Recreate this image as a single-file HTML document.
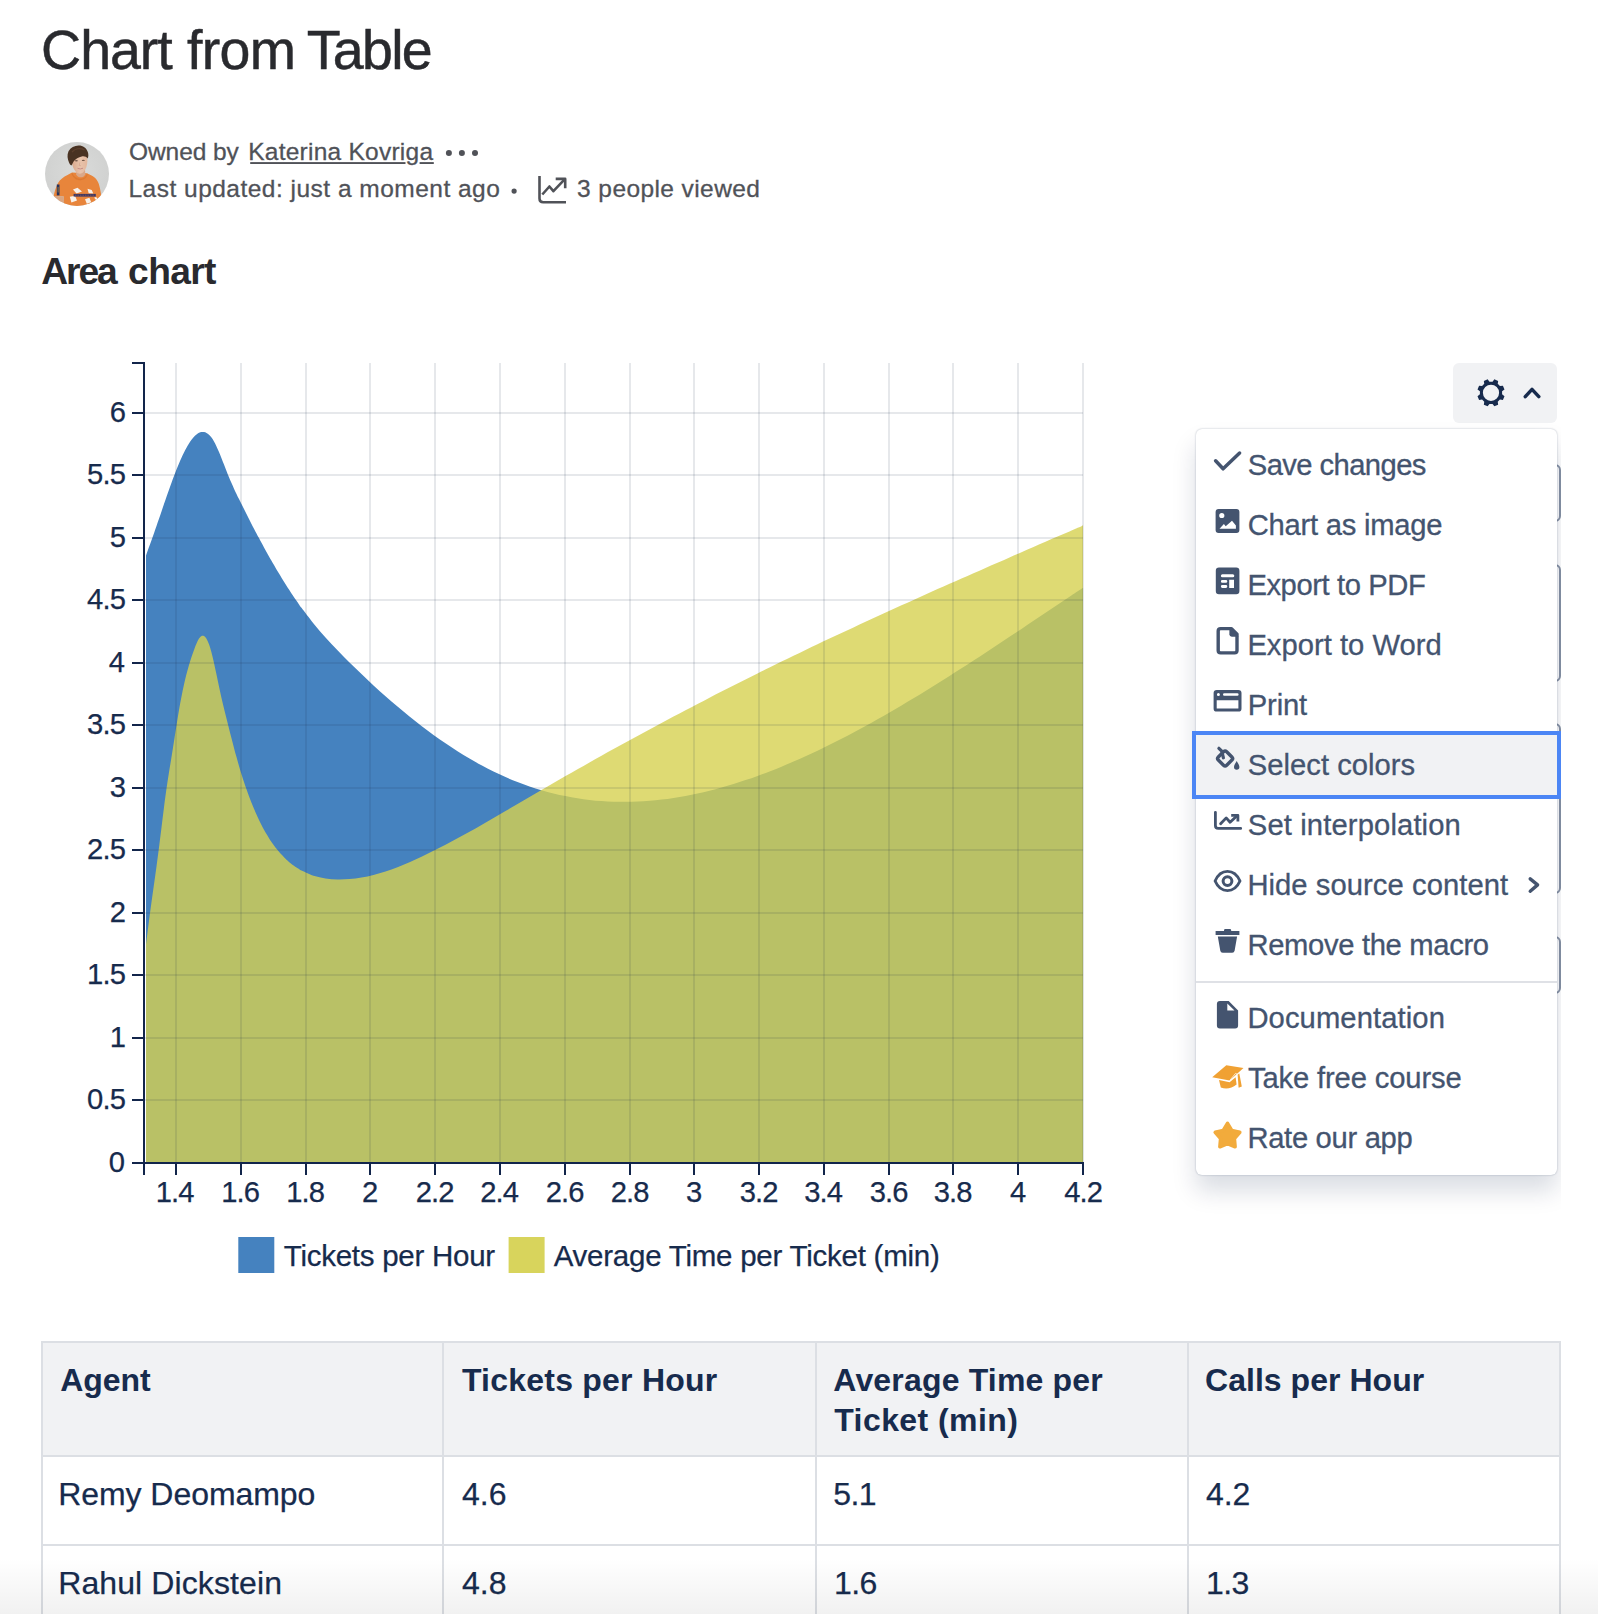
<!DOCTYPE html>
<html lang="en"><head><meta charset="utf-8"><title>Chart from Table</title>
<style>
html,body{margin:0;padding:0;background:#fff;overflow:hidden}
body{width:1598px;height:1614px;overflow:hidden;position:relative;font-family:"Liberation Sans",sans-serif}
.t{position:absolute;white-space:nowrap;margin:0;padding:0}
.abs{position:absolute}
svg{position:absolute;left:0;top:0;overflow:visible}
</style></head>
<body>
<svg style="left:45.2px;top:142px" width="64" height="64" viewBox="0 0 64 64">
<defs><clipPath id="av"><circle cx="32" cy="32" r="32"/></clipPath><filter id="bl" x="-10%" y="-10%" width="120%" height="120%"><feGaussianBlur stdDeviation="0.7"/></filter>
<linearGradient id="fg" x1="0" x2="1" y1="0" y2="0"><stop offset="0" stop-color="#D9A88C"/><stop offset="0.55" stop-color="#E8C3AB"/><stop offset="1" stop-color="#E3B79C"/></linearGradient>
<radialGradient id="bgr" cx="0.5" cy="0.45" r="0.6"><stop offset="0" stop-color="#DADBDA"/><stop offset="1" stop-color="#CFD0CF"/></radialGradient></defs>
<g clip-path="url(#av)"><rect width="64" height="64" fill="url(#bgr)"/>
<g filter="url(#bl)">
<path d="M8.2,56 C9.5,50 10.5,45.5 13,41 C15,37.5 18.5,35 22.5,33 L27,30.6 L42,31.3 L47.5,34 C51.5,36.2 53.8,40 55,46.5 L57,57 L54,66 L18,66 L18.75,54.5 L8.6,54 Z" fill="#E8853B"/>
<path d="M8.6,54 L18.75,54.6 L18.75,61 C15,60.5 11.5,59 8.5,56.5Z" fill="#D9A683"/>
<path d="M31,27 L40,27 L40.3,32.5 C38.5,36.3 33,36.3 31.2,32.5Z" fill="#D9A88A"/>
<path d="M27.2,31 C30.5,38.6 40,38.6 42.3,31.4 L42.6,32.8 C40.5,40.2 30,40.2 26.6,32Z" fill="#D8752F" opacity="0.75"/>
<path d="M26.8,19 C26.5,15 29,11.5 35,11.5 C40,11.5 42.6,14 42.4,19 C42.3,23.5 41,27.5 38.5,30 C36.5,32.2 33.2,32.3 31,30 C28.5,27.5 27,23.5 26.8,19Z" fill="url(#fg)"/>
<ellipse cx="31.4" cy="18.7" rx="1.5" ry="0.7" fill="#5A4236" opacity="0.8"/><ellipse cx="38.3" cy="18.4" rx="1.5" ry="0.7" fill="#5A4236" opacity="0.8"/>
<path d="M32.6,26.4 Q35.3,27.6 38,26.2" stroke="#B9787A" stroke-width="0.9" fill="none" opacity="0.8"/>
<path d="M34.8,20.5 L34.3,23.6 L36,23.7" stroke="#C9977E" stroke-width="0.7" fill="none" opacity="0.7"/>
<path d="M24,20.5 C22.5,17 21.8,13 23.5,9.2 C25.5,5.5 29.5,3.7 33.5,3.6 C38,3.5 41.2,6 42.6,9.5 C43.6,12 43.6,14.5 42.6,16.6 C41.5,14.8 39.5,14 36.8,14.4 C33.5,15 30.5,16.8 28.6,19.5 C27.6,21 27.2,22.6 26.4,23.6 C25.4,23 24.6,22 24,20.5Z" fill="#4A3323"/>
<path d="M27,10 C30,6.5 35,5.5 39.5,8" stroke="#6A4A35" stroke-width="1.2" fill="none" opacity="0.6"/>
<rect x="11.8" y="42.5" width="2.7" height="10.9" fill="#27305E"/>
<rect x="12.6" y="45" width="1" height="5.5" fill="#B99A3D" opacity="0.7"/>
<path d="M28,47.4l4.5,-1.6l4.5,3.6l-5.5,2.2z M42.5,46.8l4.2,1.2l1.6,3.6l-4.6,-0.4z M24.8,54.8l5.2,-1l2,4.6l-5.6,2.2z M40,57.3l4.4,-1.5l1.8,4.4l-4.4,1.6z M49.5,55l2.4,0.6l0.4,2.2l-2.4,-0.6z" fill="#F8F1EA"/>
<rect x="28.6" y="51.9" width="22.2" height="2.7" fill="#3C3766"/>
<path d="M30,53.2h19" stroke="#E8853B" stroke-width="0.7" stroke-dasharray="1.4 1.1" opacity="0.55"/>
</g></g></svg>
<svg width="1598" height="1614" viewBox="0 0 1598 1614">
<rect x="250.2" y="162.1" width="155.3" height="1.9" fill="#505258"/><rect x="419.6" y="162.1" width="14.2" height="1.9" fill="#505258"/>
<circle cx="448.9" cy="152.9" r="3" fill="#505258"/><circle cx="461.9" cy="152.9" r="3" fill="#505258"/><circle cx="475" cy="152.9" r="3" fill="#505258"/>
<circle cx="514.1" cy="191.1" r="2.6" fill="#505258"/>
<g fill="none" stroke="#505258" stroke-width="2.6" stroke-linejoin="round" stroke-linecap="butt">
<path d="M539.5,176.1V198.5Q539.5,202.2 543.2,202.2H566"/>
<path d="M542.3,194.5L549.4,186.5L553.4,191.2L564.6,179.4"/>
<path d="M555.7,178.9H565.2V188.2"/>
</g>
</svg>
<svg width="1598" height="1614" viewBox="0 0 1598 1614">
<defs><clipPath id="ac"><rect x="146" y="360" width="937.2" height="802"/></clipPath></defs>
<g clip-path="url(#ac)">
<path d="M144.0,561.2C144.4,560.0 145.7,556.3 146.5,554.0C147.3,551.6 148.2,549.3 149.0,547.0C149.8,544.7 150.7,542.5 151.5,540.2C152.3,537.9 153.2,535.5 154.0,533.2C154.8,530.8 155.7,528.4 156.5,526.0C157.3,523.6 158.2,521.2 159.0,518.8C159.8,516.3 160.7,513.9 161.5,511.4C162.3,509.0 163.2,506.5 164.0,504.1C164.8,501.7 165.7,499.2 166.5,496.8C167.3,494.4 168.2,492.0 169.0,489.7C169.8,487.3 170.7,485.0 171.5,482.7C172.3,480.4 173.2,478.2 174.0,476.0C174.8,473.8 175.7,471.6 176.5,469.5C177.3,467.4 178.2,465.4 179.0,463.4C179.8,461.5 180.7,459.6 181.5,457.7C182.3,455.9 183.2,454.2 184.0,452.5C184.8,450.8 185.7,449.2 186.5,447.7C187.3,446.2 188.2,444.8 189.0,443.5C189.8,442.2 190.7,440.9 191.5,439.8C192.3,438.7 193.2,437.7 194.0,436.8C194.8,435.9 195.7,435.1 196.5,434.5C197.3,433.8 198.2,433.3 199.0,432.8C199.8,432.4 200.7,432.1 201.5,432.0C202.3,431.9 203.2,431.8 204.0,432.0C204.8,432.1 205.7,432.4 206.5,432.9C207.3,433.3 208.2,433.9 209.0,434.7C209.8,435.5 210.7,436.4 211.5,437.6C212.3,438.7 213.2,440.0 214.0,441.5C214.8,443.0 215.7,444.6 216.5,446.4C217.3,448.1 218.2,450.1 219.0,452.0C219.8,454.0 220.7,456.1 221.5,458.2C222.3,460.3 223.2,462.5 224.0,464.6C224.8,466.8 225.7,469.0 226.5,471.1C227.3,473.2 228.2,475.3 229.0,477.3C229.8,479.3 230.7,481.2 231.5,483.1C232.3,485.0 233.2,486.9 234.0,488.7C234.8,490.5 235.7,492.2 236.5,493.9C237.3,495.7 238.2,497.4 239.0,499.1C239.8,500.8 240.7,502.4 241.5,504.1C242.3,505.8 243.2,507.5 244.0,509.1C244.8,510.8 245.7,512.4 246.5,514.1C247.3,515.7 248.2,517.4 249.0,519.0C249.8,520.6 250.7,522.2 251.5,523.9C252.3,525.5 253.2,527.1 254.0,528.7C254.8,530.3 255.7,531.9 256.5,533.4C257.3,535.0 258.2,536.6 259.0,538.1C259.8,539.7 260.7,541.3 261.5,542.8C262.3,544.3 263.2,545.9 264.0,547.4C264.8,548.9 265.7,550.4 266.5,551.9C267.3,553.4 268.2,554.9 269.0,556.4C269.8,557.9 270.7,559.3 271.5,560.8C272.3,562.3 273.2,563.7 274.0,565.1C274.8,566.6 275.7,568.0 276.5,569.4C277.3,570.8 278.2,572.2 279.0,573.6C279.8,575.0 280.7,576.4 281.5,577.7C282.3,579.1 283.2,580.4 284.0,581.8C284.8,583.1 285.7,584.4 286.5,585.8C287.3,587.1 288.2,588.4 289.0,589.6C289.8,590.9 290.7,592.2 291.5,593.5C292.3,594.7 293.2,596.0 294.0,597.2C294.8,598.4 295.7,599.6 296.5,600.8C297.3,602.0 298.2,603.2 299.0,604.4C299.8,605.5 299.1,604.7 301.5,607.8C303.9,611.0 309.5,618.4 313.5,623.4C317.5,628.3 321.5,632.9 325.5,637.4C329.5,641.9 333.5,646.2 337.5,650.3C341.5,654.5 345.5,658.5 349.5,662.5C353.5,666.4 357.5,670.3 361.5,674.1C365.5,678.0 369.5,681.7 373.5,685.4C377.5,689.1 381.5,692.7 385.5,696.2C389.5,699.8 393.5,703.2 397.5,706.6C401.5,710.0 405.5,713.3 409.5,716.5C413.5,719.8 417.5,722.9 421.5,726.0C425.5,729.0 429.5,732.0 433.5,734.9C437.5,737.8 441.5,740.6 445.5,743.3C449.5,746.1 453.5,748.7 457.5,751.2C461.5,753.8 465.5,756.2 469.5,758.6C473.5,760.9 477.5,763.2 481.5,765.3C485.5,767.5 489.5,769.5 493.5,771.5C497.5,773.5 501.5,775.3 505.5,777.1C509.5,778.8 513.5,780.5 517.5,782.0C521.5,783.6 525.5,785.0 529.5,786.4C533.5,787.8 537.5,789.0 541.5,790.2C545.5,791.4 549.5,792.5 553.5,793.4C557.5,794.4 561.5,795.3 565.5,796.1C569.5,796.9 573.5,797.7 577.5,798.3C581.5,798.9 585.5,799.5 589.5,799.9C593.5,800.4 597.5,800.7 601.5,801.0C605.5,801.3 609.5,801.5 613.5,801.7C617.5,801.8 621.5,801.8 625.5,801.8C629.5,801.8 633.5,801.7 637.5,801.5C641.5,801.3 645.5,801.1 649.5,800.7C653.5,800.4 657.5,800.0 661.5,799.5C665.5,799.1 669.5,798.5 673.5,797.9C677.5,797.3 681.5,796.6 685.5,795.9C689.5,795.1 693.5,794.3 697.5,793.5C701.5,792.6 705.5,791.7 709.5,790.7C713.5,789.7 717.5,788.6 721.5,787.5C725.5,786.4 729.5,785.2 733.5,784.0C737.5,782.7 741.5,781.5 745.5,780.1C749.5,778.8 753.5,777.4 757.5,775.9C761.5,774.5 765.5,773.0 769.5,771.4C773.5,769.9 777.5,768.3 781.5,766.7C785.5,765.0 789.5,763.3 793.5,761.6C797.5,759.9 801.5,758.1 805.5,756.3C809.5,754.4 813.5,752.6 817.5,750.7C821.5,748.8 825.5,746.8 829.5,744.8C833.5,742.8 837.5,740.8 841.5,738.8C845.5,736.7 849.5,734.6 853.5,732.5C857.5,730.4 861.5,728.2 865.5,726.0C869.5,723.8 873.5,721.6 877.5,719.3C881.5,717.1 885.5,714.8 889.5,712.5C893.5,710.2 897.5,707.8 901.5,705.4C905.5,703.1 909.5,700.7 913.5,698.3C917.5,695.9 921.5,693.4 925.5,691.0C929.5,688.5 933.5,686.0 937.5,683.5C941.5,681.0 945.5,678.5 949.5,675.9C953.5,673.4 957.5,670.9 961.5,668.3C965.5,665.7 969.5,663.1 973.5,660.5C977.5,657.9 981.5,655.3 985.5,652.7C989.5,650.1 993.5,647.4 997.5,644.8C1001.5,642.2 1005.5,639.5 1009.5,636.8C1013.5,634.2 1017.5,631.5 1021.5,628.9C1025.5,626.2 1029.5,623.5 1033.5,620.8C1037.5,618.2 1041.5,615.5 1045.5,612.8C1049.5,610.1 1053.5,607.5 1057.5,604.8C1061.5,602.1 1065.5,599.4 1069.5,596.8C1073.5,594.1 1079.2,590.3 1081.5,588.8C1083.8,587.3 1082.8,587.9 1083.1,587.7L1083.2,1162L144,1162Z" fill="#4582BF"/>
<path d="M144.0,960.1C144.4,956.8 145.7,946.8 146.5,940.2C147.3,933.6 148.2,927.0 149.0,920.7C149.8,914.3 150.7,908.2 151.5,902.1C152.3,896.1 153.2,890.3 154.0,884.3C154.8,878.4 155.7,872.6 156.5,866.5C157.3,860.4 158.2,854.1 159.0,847.6C159.8,841.1 160.7,834.2 161.5,827.5C162.3,820.7 163.2,813.7 164.0,807.3C164.8,800.8 165.7,794.4 166.5,788.6C167.3,782.8 168.2,777.6 169.0,772.3C169.8,767.1 170.7,762.3 171.5,757.1C172.3,751.9 173.2,746.6 174.0,741.3C174.8,736.0 175.7,730.4 176.5,725.2C177.3,720.0 178.2,714.9 179.0,710.1C179.8,705.3 180.7,700.8 181.5,696.5C182.3,692.3 183.2,688.3 184.0,684.6C184.8,680.8 185.7,677.4 186.5,674.1C187.3,670.9 188.2,667.9 189.0,665.0C189.8,662.2 190.7,659.5 191.5,657.0C192.3,654.5 193.2,652.2 194.0,649.9C194.8,647.7 195.7,645.5 196.5,643.6C197.3,641.7 198.2,639.9 199.0,638.6C199.8,637.4 200.7,636.5 201.5,636.0C202.3,635.6 203.2,635.6 204.0,636.1C204.8,636.6 205.7,637.5 206.5,638.8C207.3,640.2 208.2,642.0 209.0,644.3C209.8,646.5 210.7,649.4 211.5,652.5C212.3,655.6 213.2,659.2 214.0,662.9C214.8,666.5 215.7,670.6 216.5,674.5C217.3,678.5 218.2,682.7 219.0,686.6C219.8,690.5 220.7,694.3 221.5,698.0C222.3,701.6 223.2,705.1 224.0,708.5C224.8,712.0 225.7,715.3 226.5,718.6C227.3,721.9 228.2,725.2 229.0,728.5C229.8,731.8 230.7,735.1 231.5,738.3C232.3,741.5 233.2,744.8 234.0,747.9C234.8,751.1 235.7,754.2 236.5,757.1C237.3,760.1 238.2,763.1 239.0,765.9C239.8,768.7 240.7,771.5 241.5,774.2C242.3,776.8 243.2,779.4 244.0,782.0C244.8,784.5 245.7,786.9 246.5,789.3C247.3,791.7 248.2,794.0 249.0,796.2C249.8,798.4 250.7,800.6 251.5,802.7C252.3,804.8 253.2,806.8 254.0,808.8C254.8,810.8 255.7,812.7 256.5,814.6C257.3,816.4 258.2,818.2 259.0,819.9C259.8,821.7 260.7,823.3 261.5,825.0C262.3,826.6 263.2,828.2 264.0,829.7C264.8,831.2 265.7,832.6 266.5,834.1C267.3,835.5 268.2,836.8 269.0,838.2C269.8,839.5 270.7,840.7 271.5,842.0C272.3,843.2 273.2,844.4 274.0,845.5C274.8,846.6 275.7,847.7 276.5,848.8C277.3,849.8 278.2,850.9 279.0,851.8C279.8,852.8 280.7,853.7 281.5,854.6C282.3,855.5 283.2,856.4 284.0,857.2C284.8,858.1 285.7,858.9 286.5,859.7C287.3,860.4 288.2,861.2 289.0,861.9C289.8,862.6 290.7,863.3 291.5,863.9C292.3,864.6 293.2,865.2 294.0,865.8C294.8,866.4 295.7,867.0 296.5,867.6C297.3,868.1 298.2,868.6 299.0,869.1C299.8,869.7 299.1,869.5 301.5,870.6C303.9,871.7 309.5,874.5 313.5,875.8C317.5,877.1 321.5,877.9 325.5,878.5C329.5,879.1 333.5,879.4 337.5,879.5C341.5,879.6 345.5,879.4 349.5,879.1C353.5,878.8 357.5,878.3 361.5,877.6C365.5,876.9 369.5,876.0 373.5,875.0C377.5,874.0 381.5,872.8 385.5,871.5C389.5,870.2 393.5,868.7 397.5,867.2C401.5,865.6 405.5,864.0 409.5,862.2C413.5,860.5 417.5,858.6 421.5,856.7C425.5,854.8 429.5,852.9 433.5,850.8C437.5,848.8 441.5,846.8 445.5,844.7C449.5,842.6 453.5,840.4 457.5,838.3C461.5,836.1 465.5,833.9 469.5,831.7C473.5,829.4 477.5,827.2 481.5,824.9C485.5,822.6 489.5,820.3 493.5,818.0C497.5,815.7 501.5,813.4 505.5,811.1C509.5,808.7 513.5,806.4 517.5,804.1C521.5,801.7 525.5,799.4 529.5,797.0C533.5,794.7 537.5,792.3 541.5,790.0C545.5,787.7 549.5,785.4 553.5,783.1C557.5,780.7 561.5,778.4 565.5,776.1C569.5,773.9 573.5,771.6 577.5,769.3C581.5,767.0 585.5,764.8 589.5,762.5C593.5,760.2 597.5,758.0 601.5,755.8C605.5,753.5 609.5,751.3 613.5,749.1C617.5,746.9 621.5,744.7 625.5,742.5C629.5,740.3 633.5,738.1 637.5,735.9C641.5,733.7 645.5,731.5 649.5,729.4C653.5,727.2 657.5,725.1 661.5,722.9C665.5,720.8 669.5,718.7 673.5,716.5C677.5,714.4 681.5,712.3 685.5,710.2C689.5,708.1 693.5,706.0 697.5,703.9C701.5,701.9 705.5,699.8 709.5,697.7C713.5,695.7 717.5,693.6 721.5,691.6C725.5,689.5 729.5,687.5 733.5,685.5C737.5,683.4 741.5,681.4 745.5,679.4C749.5,677.4 753.5,675.4 757.5,673.4C761.5,671.5 765.5,669.5 769.5,667.5C773.5,665.5 777.5,663.6 781.5,661.6C785.5,659.7 789.5,657.7 793.5,655.8C797.5,653.9 801.5,652.0 805.5,650.0C809.5,648.1 813.5,646.2 817.5,644.3C821.5,642.4 825.5,640.5 829.5,638.6C833.5,636.7 837.5,634.8 841.5,633.0C845.5,631.1 849.5,629.2 853.5,627.4C857.5,625.5 861.5,623.7 865.5,621.8C869.5,620.0 873.5,618.1 877.5,616.3C881.5,614.4 885.5,612.6 889.5,610.8C893.5,609.0 897.5,607.2 901.5,605.3C905.5,603.5 909.5,601.7 913.5,599.9C917.5,598.1 921.5,596.3 925.5,594.5C929.5,592.7 933.5,590.9 937.5,589.1C941.5,587.4 945.5,585.6 949.5,583.8C953.5,582.0 957.5,580.3 961.5,578.5C965.5,576.7 969.5,575.0 973.5,573.2C977.5,571.4 981.5,569.7 985.5,567.9C989.5,566.2 993.5,564.4 997.5,562.7C1001.5,560.9 1005.5,559.2 1009.5,557.4C1013.5,555.7 1017.5,553.9 1021.5,552.2C1025.5,550.4 1029.5,548.7 1033.5,547.0C1037.5,545.2 1041.5,543.5 1045.5,541.8C1049.5,540.0 1053.5,538.3 1057.5,536.6C1061.5,534.8 1065.5,533.1 1069.5,531.4C1073.5,529.6 1079.2,527.1 1081.5,526.2C1083.8,525.2 1082.8,525.6 1083.1,525.5L1083.2,1162L144,1162Z" fill="#D6D150" fill-opacity="0.8"/>
</g>
<g stroke="#172B4D" stroke-opacity="0.11" stroke-width="2" fill="none">
<line x1="176.00" x2="176.00" y1="363" y2="1162"/><line x1="241.00" x2="241.00" y1="363" y2="1162"/><line x1="306.00" x2="306.00" y1="363" y2="1162"/><line x1="370.00" x2="370.00" y1="363" y2="1162"/><line x1="435.00" x2="435.00" y1="363" y2="1162"/><line x1="500.00" x2="500.00" y1="363" y2="1162"/><line x1="565.00" x2="565.00" y1="363" y2="1162"/><line x1="630.00" x2="630.00" y1="363" y2="1162"/><line x1="694.00" x2="694.00" y1="363" y2="1162"/><line x1="759.00" x2="759.00" y1="363" y2="1162"/><line x1="824.00" x2="824.00" y1="363" y2="1162"/><line x1="889.00" x2="889.00" y1="363" y2="1162"/><line x1="953.00" x2="953.00" y1="363" y2="1162"/><line x1="1018.00" x2="1018.00" y1="363" y2="1162"/><line x1="1083.00" x2="1083.00" y1="363" y2="1162"/><line x1="145" x2="1083" y1="1100" y2="1100"/><line x1="145" x2="1083" y1="1038" y2="1038"/><line x1="145" x2="1083" y1="975" y2="975"/><line x1="145" x2="1083" y1="913" y2="913"/><line x1="145" x2="1083" y1="850" y2="850"/><line x1="145" x2="1083" y1="788" y2="788"/><line x1="145" x2="1083" y1="725" y2="725"/><line x1="145" x2="1083" y1="663" y2="663"/><line x1="145" x2="1083" y1="600" y2="600"/><line x1="145" x2="1083" y1="538" y2="538"/><line x1="145" x2="1083" y1="475" y2="475"/><line x1="145" x2="1083" y1="413" y2="413"/></g>
<g stroke="#12254B" stroke-width="2" fill="none"><path d="M132,363H144V1163"/><path d="M144,1175V1163H1083V1175"/><line x1="132" x2="144" y1="1163" y2="1163"/><line x1="132" x2="144" y1="1100" y2="1100"/><line x1="132" x2="144" y1="1038" y2="1038"/><line x1="132" x2="144" y1="975" y2="975"/><line x1="132" x2="144" y1="913" y2="913"/><line x1="132" x2="144" y1="850" y2="850"/><line x1="132" x2="144" y1="788" y2="788"/><line x1="132" x2="144" y1="725" y2="725"/><line x1="132" x2="144" y1="663" y2="663"/><line x1="132" x2="144" y1="600" y2="600"/><line x1="132" x2="144" y1="538" y2="538"/><line x1="132" x2="144" y1="475" y2="475"/><line x1="132" x2="144" y1="413" y2="413"/><line x1="176.00" x2="176.00" y1="1163" y2="1175"/><line x1="241.00" x2="241.00" y1="1163" y2="1175"/><line x1="306.00" x2="306.00" y1="1163" y2="1175"/><line x1="370.00" x2="370.00" y1="1163" y2="1175"/><line x1="435.00" x2="435.00" y1="1163" y2="1175"/><line x1="500.00" x2="500.00" y1="1163" y2="1175"/><line x1="565.00" x2="565.00" y1="1163" y2="1175"/><line x1="630.00" x2="630.00" y1="1163" y2="1175"/><line x1="694.00" x2="694.00" y1="1163" y2="1175"/><line x1="759.00" x2="759.00" y1="1163" y2="1175"/><line x1="824.00" x2="824.00" y1="1163" y2="1175"/><line x1="889.00" x2="889.00" y1="1163" y2="1175"/><line x1="953.00" x2="953.00" y1="1163" y2="1175"/><line x1="1018.00" x2="1018.00" y1="1163" y2="1175"/><line x1="1083.00" x2="1083.00" y1="1163" y2="1175"/></g>
<g font-family="Liberation Sans, sans-serif" font-size="29.2" letter-spacing="-0.85" fill="#172B4D" stroke="#172B4D" stroke-width="0.25"><text x="108.70" y="1172.00">0</text>
<text x="87.06" y="1109.00">0.5</text>
<text x="109.70" y="1047.00">1</text>
<text x="87.06" y="984.00">1.5</text>
<text x="109.70" y="922.00">2</text>
<text x="87.06" y="859.00">2.5</text>
<text x="109.70" y="797.00">3</text>
<text x="87.06" y="734.00">3.5</text>
<text x="108.70" y="672.00">4</text>
<text x="87.06" y="609.00">4.5</text>
<text x="109.70" y="547.00">5</text>
<text x="87.06" y="484.00">5.5</text>
<text x="109.70" y="422.00">6</text>
<text x="155.68" y="1201.8">1.4</text>
<text x="221.18" y="1201.8">1.6</text>
<text x="286.18" y="1201.8">1.8</text>
<text x="362.00" y="1201.8">2</text>
<text x="415.68" y="1201.8">2.2</text>
<text x="480.18" y="1201.8">2.4</text>
<text x="545.68" y="1201.8">2.6</text>
<text x="610.68" y="1201.8">2.8</text>
<text x="686.00" y="1201.8">3</text>
<text x="739.68" y="1201.8">3.2</text>
<text x="804.18" y="1201.8">3.4</text>
<text x="869.68" y="1201.8">3.6</text>
<text x="933.68" y="1201.8">3.8</text>
<text x="1010.00" y="1201.8">4</text>
<text x="1064.18" y="1201.8">4.2</text></g>
<rect x="238.3" y="1237" width="36" height="36" fill="#4582BF"/><rect x="508.6" y="1237" width="36" height="36" fill="#D8D45C"/></svg>
<div class="abs" style="left:41px;top:1341px;width:1520px;height:116px;background:#F1F2F4"></div>
<div class="abs" style="left:41px;top:1341px;width:1520px;height:2px;background:#DCDFE4"></div>
<div class="abs" style="left:41px;top:1455px;width:1520px;height:2px;background:#DCDFE4"></div>
<div class="abs" style="left:41px;top:1544px;width:1520px;height:2px;background:#DCDFE4"></div>
<div class="abs" style="left:41px;top:1341px;width:2px;height:280px;background:#DCDFE4"></div>
<div class="abs" style="left:442px;top:1341px;width:2px;height:280px;background:#DCDFE4"></div>
<div class="abs" style="left:815px;top:1341px;width:2px;height:280px;background:#DCDFE4"></div>
<div class="abs" style="left:1187px;top:1341px;width:2px;height:280px;background:#DCDFE4"></div>
<div class="abs" style="left:1559px;top:1341px;width:2px;height:280px;background:#DCDFE4"></div>
<div class="abs" style="left:0;top:0;width:1561px;height:1300px;overflow:hidden">
<div class="abs" style="left:1300px;top:464px;width:257px;height:54px;border:2px solid #8792A4;border-radius:6px;"></div><div class="abs" style="left:1300px;top:564px;width:257px;height:114px;border:2px solid #8792A4;border-radius:6px;"></div><div class="abs" style="left:1300px;top:723px;width:257px;height:166.5px;border:2px solid #8792A4;border-radius:6px;"></div><div class="abs" style="left:1300px;top:936px;width:257px;height:54px;border:2px solid #8792A4;border-radius:6px;"></div>
<div class="abs" style="left:1453px;top:363px;width:104px;height:60px;background:#F1F2F4;border-radius:6px"></div>
<div class="abs" style="left:1196px;top:429px;width:361px;height:746px;background:#fff;border-radius:6px;box-shadow:0 16px 24px rgba(9,30,66,.15),0 0 2px rgba(9,30,66,.31)"></div>
<div class="abs" style="left:1196px;top:735px;width:361px;height:60px;background:#F1F2F4;outline:4px solid #4C86F5;"></div>
<div class="abs" style="left:1196px;top:981px;width:361px;height:2px;background:#DFE1E6"></div>
<svg width="1598" height="1614" viewBox="0 0 1598 1614">
<path d="M1492.56,381.71 L1494.36,379.31 L1498.16,380.89 L1497.74,383.86 L1499.94,386.06 L1502.91,385.64 L1504.49,389.44 L1502.09,391.24 L1502.09,394.36 L1504.49,396.16 L1502.91,399.96 L1499.94,399.54 L1497.74,401.74 L1498.16,404.71 L1494.36,406.29 L1492.56,403.89 L1489.44,403.89 L1487.64,406.29 L1483.84,404.71 L1484.26,401.74 L1482.06,399.54 L1479.09,399.96 L1477.51,396.16 L1479.91,394.36 L1479.91,391.24 L1477.51,389.44 L1479.09,385.64 L1482.06,386.06 L1484.26,383.86 L1483.84,380.89 L1487.64,379.31 L1489.44,381.71Z M1482.90,392.80 a8.1,8.1 0 1,0 16.2,0 a8.1,8.1 0 1,0 -16.2,0Z" fill="#172B4D" fill-rule="evenodd"/>
<path d="M1525.3,396.6L1532,389.4L1538.8,396.6" fill="none" stroke="#172B4D" stroke-width="3.5" stroke-linecap="round" stroke-linejoin="round"/>
<!-- check -->
<path d="M1215.6,460.8L1223.1,468.8L1239.6,453" fill="none" stroke="#44546F" stroke-width="3.5" stroke-linecap="round" stroke-linejoin="round"/>
<!-- image -->
<path fill-rule="evenodd" fill="#44546F" d="M1218.6,509h17.8a3,3 0 0 1 3,3v18a3,3 0 0 1 -3,3h-17.8a3,3 0 0 1 -3,-3v-18a3,3 0 0 1 3,-3Z M1219.2,515.5a2.6,2.6 0 1,0 5.2,0a2.6,2.6 0 1,0 -5.2,0Z M1219.5,528.8L1223.9,524L1225.7,526.2L1232,520.7L1235.9,525.5V528.8Z"/>
<!-- pdf -->
<path fill-rule="evenodd" fill="#44546F" d="M1219,567.5h17.2a3.2,3.2 0 0 1 3.2,3.2v20.3a3.2,3.2 0 0 1 -3.2,3.2h-17.2a3.2,3.2 0 0 1 -3.2,-3.2v-20.3a3.2,3.2 0 0 1 3.2,-3.2Z M1222.4,574.2h10.4a1.4,1.4 0 0 1 0,3h-10.4a1.4,1.4 0 0 1 0,-3Z M1222.3,580h3.6a1.3,1.3 0 0 1 0,2.8h-3.6a1.3,1.3 0 0 1 0,-2.8Z M1222.3,585.1h3.6a1.3,1.3 0 0 1 0,2.8h-3.6a1.3,1.3 0 0 1 0,-2.8Z M1229.2,579.8h4.8v8.1h-4.8Z"/>
<!-- word (file outline) -->
<path fill="none" stroke="#44546F" stroke-width="3.4" stroke-linejoin="round" d="M1231.5,628.6H1220.6Q1218.2,628.6 1218.2,631V650.5Q1218.2,652.9 1220.6,652.9H1234.6Q1237,652.9 1237,650.5V634.1Z"/>
<path fill="#44546F" d="M1229.4,627.5L1238.6,636.7H1231.8Q1229.4,636.7 1229.4,634.3Z"/>
<!-- print (window) -->
<path fill-rule="evenodd" fill="#44546F" d="M1216.8,689.9h21.5a3.2,3.2 0 0 1 3.2,3.2v15.3a3.2,3.2 0 0 1 -3.2,3.2h-21.5a3.2,3.2 0 0 1 -3.2,-3.2v-15.3a3.2,3.2 0 0 1 3.2,-3.2Z M1216.7,700.2h21.7v8.4h-21.7Z M1216.9,694.5a1.5,1.5 0 1,0 3,0a1.5,1.5 0 1,0 -3,0Z M1224.3,693.2h13a1.3,1.3 0 0 1 0,2.6h-13a1.3,1.3 0 0 1 0,-2.6Z"/>
<!-- paint bucket -->
<g transform="translate(1225.1,758.5) rotate(-45)">
<rect x="-5.9" y="-5.9" width="11.8" height="11.8" rx="2.2" fill="none" stroke="#44546F" stroke-width="3.4"/>
</g>
<path d="M1218.9,748.3L1221.8,751.2L1223.4,757.8" stroke="#44546F" stroke-width="3.2" stroke-linecap="round" stroke-linejoin="round" fill="none"/>
<path fill="#44546F" d="M1236.7,760.9C1237.7,763 1239.4,765 1239.4,767.1A2.7,2.7 0 0 1 1234,767.1C1234,765 1235.7,763 1236.7,760.9Z"/>
<!-- graph up -->
<g fill="none" stroke="#44546F" stroke-width="2.8" stroke-linejoin="round">
<path d="M1215.4,812.3V825.5Q1215.4,828.4 1218.3,828.4H1240.7" stroke-linecap="round"/>
<path d="M1220.6,823.8L1226.2,817.9L1230.1,822.3L1237.3,815.6" stroke-linecap="round"/>
<path d="M1231.2,815.4H1237.9V821.6"/>
</g>
<!-- eye -->
<path fill="none" stroke="#44546F" stroke-width="2.9" d="M1215.1,881C1218.3,873.6 1222.6,871.4 1227.5,871.4C1232.4,871.4 1236.7,873.6 1240,881C1236.7,888.4 1232.4,890.6 1227.5,890.6C1222.6,890.6 1218.3,888.4 1215.1,881Z" stroke-linejoin="round"/>
<circle cx="1227.5" cy="881.1" r="4.4" fill="none" stroke="#44546F" stroke-width="3"/>
<!-- trash -->
<path fill="#44546F" d="M1215.6,931h8.4v-0.6q0,-1.3 1.3,-1.3h4.6q1.3,0 1.3,1.3v0.6h8.2v3.9h-23.8Z M1217.8,936.6h19.3l-2.5,14.2q-0.4,2 -2.4,2h-9.5q-2,0 -2.4,-2Z"/>
<!-- documentation (file fill) -->
<path fill-rule="evenodd" fill="#44546F" d="M1219.9,1001.1h8.8l9.4,9.4v15q0,3 -3,3h-15.2q-3,0 -3,-3v-21.4q0,-3 3,-3Z M1227.3,1003.4v7.2h7.2Z"/>
<!-- grad cap -->
<path fill="#F0A133" d="M1212.2,1077.2L1226.3,1065.2L1243.5,1068.1L1229.6,1080.6Z"/>
<path fill="#F0A133" d="M1219,1080L1229.6,1082.2L1235.6,1077.2L1236.6,1084.5Q1229,1090.5 1220.8,1087.5Z"/>
<path fill="#F0A133" d="M1237.6,1074.2L1239.3,1073.4L1241.8,1086.6L1238.6,1087.8Z"/>
<path d="M1229.6,1080.6L1235.5,1073.4L1238.2,1074.6" fill="none" stroke="#fff" stroke-width="0.7"/>
<!-- star -->
<path d="M1227.50,1123.40 L1231.73,1130.48 L1239.77,1132.31 L1234.35,1138.52 L1235.08,1146.74 L1227.50,1143.50 L1219.92,1146.74 L1220.65,1138.52 L1215.23,1132.31 L1223.27,1130.48Z" fill="#F2AB3C" stroke="#F2AB3C" stroke-width="3.6" stroke-linejoin="round"/>
<!-- chevron right -->
<path d="M1530.2,878.9L1537.6,884.9L1530.2,891.2" fill="none" stroke="#44546F" stroke-width="3.4" stroke-linecap="round" stroke-linejoin="round"/>
</svg>
</div>
<div class="t" style="left:41.10px;top:22.92px;font-size:55.5px;line-height:55.5px;letter-spacing:-1.049px;color:#292A2E;-webkit-text-stroke:0.5px #292A2E;">Chart</div>
<div class="t" style="left:186.90px;top:22.92px;font-size:55.5px;line-height:55.5px;letter-spacing:-0.623px;color:#292A2E;-webkit-text-stroke:0.5px #292A2E;">from</div>
<div class="t" style="left:306.80px;top:22.92px;font-size:55.5px;line-height:55.5px;letter-spacing:-1.703px;color:#292A2E;-webkit-text-stroke:0.5px #292A2E;">Table</div>
<div class="t" style="left:129.00px;top:139.76px;font-size:24.5px;line-height:24.5px;letter-spacing:-0.066px;color:#505258;-webkit-text-stroke:0.3px #505258;">Owned by</div>
<div class="t" style="left:248.20px;top:139.76px;font-size:24.5px;line-height:24.5px;letter-spacing:0.246px;color:#505258;-webkit-text-stroke:0.3px #505258;">Katerina Kovriga</div>
<div class="t" style="left:128.50px;top:177.46px;font-size:24.5px;line-height:24.5px;letter-spacing:0.483px;color:#505258;-webkit-text-stroke:0.3px #505258;">Last updated: just a moment ago</div>
<div class="t" style="left:577.10px;top:177.46px;font-size:24.5px;line-height:24.5px;letter-spacing:0.411px;color:#505258;-webkit-text-stroke:0.3px #505258;">3 people viewed</div>
<div class="t" style="left:41.30px;top:253.11px;font-size:37.2px;line-height:37.2px;letter-spacing:-2.070px;color:#292A2E;font-weight:700;">Area</div>
<div class="t" style="left:128.10px;top:253.11px;font-size:37.2px;line-height:37.2px;letter-spacing:-0.638px;color:#292A2E;font-weight:700;">chart</div>
<div class="t" style="left:283.80px;top:1240.63px;font-size:29.5px;line-height:29.5px;letter-spacing:-0.265px;color:#172B4D;-webkit-text-stroke:0.25px #172B4D;">Tickets per Hour</div>
<div class="t" style="left:553.70px;top:1240.63px;font-size:29.5px;line-height:29.5px;letter-spacing:-0.245px;color:#172B4D;-webkit-text-stroke:0.25px #172B4D;">Average Time per Ticket (min)</div>
<div class="t" style="left:1247.80px;top:450.68px;font-size:29.2px;line-height:29.2px;letter-spacing:-0.581px;color:#44546F;-webkit-text-stroke:0.3px #44546F;">Save changes</div>
<div class="t" style="left:1247.80px;top:510.68px;font-size:29.2px;line-height:29.2px;letter-spacing:-0.252px;color:#44546F;-webkit-text-stroke:0.3px #44546F;">Chart as image</div>
<div class="t" style="left:1247.40px;top:570.68px;font-size:29.2px;line-height:29.2px;letter-spacing:-0.414px;color:#44546F;-webkit-text-stroke:0.3px #44546F;">Export to PDF</div>
<div class="t" style="left:1247.40px;top:630.68px;font-size:29.2px;line-height:29.2px;letter-spacing:0.016px;color:#44546F;-webkit-text-stroke:0.3px #44546F;">Export to Word</div>
<div class="t" style="left:1247.80px;top:690.68px;font-size:29.2px;line-height:29.2px;letter-spacing:-0.176px;color:#44546F;-webkit-text-stroke:0.3px #44546F;">Print</div>
<div class="t" style="left:1247.80px;top:750.68px;font-size:29.2px;line-height:29.2px;letter-spacing:0.026px;color:#44546F;-webkit-text-stroke:0.3px #44546F;">Select colors</div>
<div class="t" style="left:1247.80px;top:810.68px;font-size:29.2px;line-height:29.2px;letter-spacing:0.131px;color:#44546F;-webkit-text-stroke:0.3px #44546F;">Set interpolation</div>
<div class="t" style="left:1247.40px;top:870.68px;font-size:29.2px;line-height:29.2px;letter-spacing:0.062px;color:#44546F;-webkit-text-stroke:0.3px #44546F;">Hide source content</div>
<div class="t" style="left:1247.40px;top:930.68px;font-size:29.2px;line-height:29.2px;letter-spacing:-0.329px;color:#44546F;-webkit-text-stroke:0.3px #44546F;">Remove the macro</div>
<div class="t" style="left:1247.40px;top:1004.48px;font-size:29.2px;line-height:29.2px;letter-spacing:0.101px;color:#44546F;-webkit-text-stroke:0.3px #44546F;">Documentation</div>
<div class="t" style="left:1248.00px;top:1064.48px;font-size:29.2px;line-height:29.2px;letter-spacing:-0.142px;color:#44546F;-webkit-text-stroke:0.3px #44546F;">Take free course</div>
<div class="t" style="left:1247.40px;top:1124.48px;font-size:29.2px;line-height:29.2px;letter-spacing:-0.311px;color:#44546F;-webkit-text-stroke:0.3px #44546F;">Rate our app</div>
<div class="t" style="left:60.20px;top:1364.11px;font-size:32px;line-height:32px;letter-spacing:-0.075px;color:#172B4D;font-weight:700;">Agent</div>
<div class="t" style="left:461.90px;top:1364.11px;font-size:32px;line-height:32px;letter-spacing:0.228px;color:#172B4D;font-weight:700;">Tickets per Hour</div>
<div class="t" style="left:833.30px;top:1364.11px;font-size:32px;line-height:32px;letter-spacing:0.177px;color:#172B4D;font-weight:700;">Average Time per</div>
<div class="t" style="left:834.20px;top:1403.81px;font-size:32px;line-height:32px;letter-spacing:0.432px;color:#172B4D;font-weight:700;">Ticket (min)</div>
<div class="t" style="left:1205.00px;top:1364.11px;font-size:32px;line-height:32px;letter-spacing:0.041px;color:#172B4D;font-weight:700;">Calls per Hour</div>
<div class="t" style="left:58.20px;top:1478.11px;font-size:32px;line-height:32px;letter-spacing:-0.055px;color:#172B4D;-webkit-text-stroke:0.25px #172B4D;">Remy Deomampo</div>
<div class="t" style="left:461.90px;top:1478.11px;font-size:32px;line-height:32px;letter-spacing:0.056px;color:#172B4D;-webkit-text-stroke:0.25px #172B4D;">4.6</div>
<div class="t" style="left:833.20px;top:1478.11px;font-size:32px;line-height:32px;letter-spacing:-0.600px;color:#172B4D;-webkit-text-stroke:0.25px #172B4D;">5.1</div>
<div class="t" style="left:1206.00px;top:1478.11px;font-size:32px;line-height:32px;letter-spacing:-0.044px;color:#172B4D;-webkit-text-stroke:0.25px #172B4D;">4.2</div>
<div class="t" style="left:58.20px;top:1566.71px;font-size:32px;line-height:32px;letter-spacing:0.106px;color:#172B4D;-webkit-text-stroke:0.25px #172B4D;">Rahul Dickstein</div>
<div class="t" style="left:461.90px;top:1566.71px;font-size:32px;line-height:32px;letter-spacing:0.056px;color:#172B4D;-webkit-text-stroke:0.25px #172B4D;">4.8</div>
<div class="t" style="left:834.00px;top:1566.71px;font-size:32px;line-height:32px;letter-spacing:-0.600px;color:#172B4D;-webkit-text-stroke:0.25px #172B4D;">1.6</div>
<div class="t" style="left:1206.00px;top:1566.71px;font-size:32px;line-height:32px;letter-spacing:-0.600px;color:#172B4D;-webkit-text-stroke:0.25px #172B4D;">1.3</div>
<div class="abs" style="left:0;top:1558px;width:1598px;height:56px;background:linear-gradient(to bottom,rgba(0,0,0,0),rgba(0,0,0,0.055))"></div>
</body></html>
